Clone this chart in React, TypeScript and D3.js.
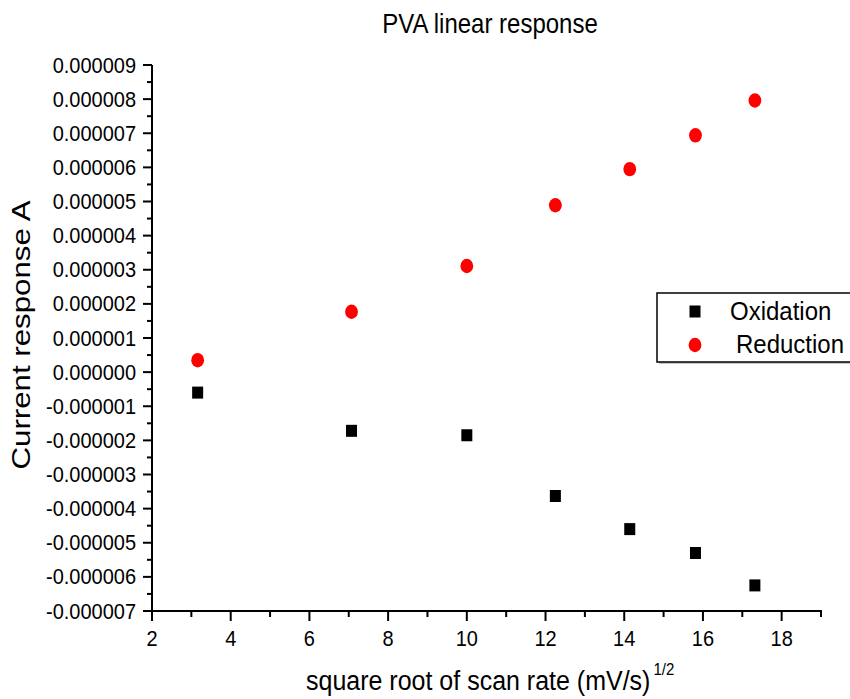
import React from "react";
import * as d3 from "d3";

const scanRateRoot = [3.16, 7.07, 10.0, 12.25, 14.14, 15.81, 17.32];
const oxidation = [-0.6e-6, -1.72e-6, -1.85e-6, -3.63e-6, -4.6e-6, -5.3e-6, -6.25e-6];
const reduction = [0.35e-6, 1.77e-6, 3.11e-6, 4.89e-6, 5.95e-6, 6.94e-6, 7.96e-6];
const xMajorTicks = [2, 4, 6, 8, 10, 12, 14, 16, 18];
const xMinorTicks = [3, 5, 7, 9, 11, 13, 15, 17, 19];
const yMajorTicks = [-7, -6, -5, -4, -3, -2, -1, 0, 1, 2, 3, 4, 5, 6, 7, 8, 9].map((v) => v * 1e-6);
const yMinorTicks = [-6.5, -5.5, -4.5, -3.5, -2.5, -1.5, -0.5, 0.5, 1.5, 2.5, 3.5, 4.5, 5.5, 6.5, 7.5, 8.5].map((v) => v * 1e-6);
const seriesNames = ["Oxidation", "Reduction"];
const title = "PVA linear response";
const xTitle = "square root of scan rate (mV/s)";
const xTitleSup = "1/2";
const yTitle = "Current response A";

const FONT = "'Liberation Sans', Arial, sans-serif";

export default function App() {
  const x = d3.scaleLinear().domain([2, 19]).range([152, 821]);
  const y = d3.scaleLinear().domain([-7e-6, 9e-6]).range([611, 65]);
  const x0 = x(2);
  const yBottom = y(-7e-6);
  const fmt = (v: number) => {
    const s = (Math.round(v * 1e6) / 1e6).toFixed(6);
    return s === "-0.000000" ? "0.000000" : s;
  };

  return (
    <svg
      width={850}
      height={699}
      style={{ position: "absolute", left: 0, top: 0, background: "#fff" }}
      fontFamily={FONT}
    >
      <rect x={0} y={0} width={850} height={699} fill="#fff" />
      {/* title */}
      <g transform="translate(490,33) scale(1,1.12)">
        <text x={0} y={0} textAnchor="middle" fontSize={24} fill="#000">
          {title}
        </text>
      </g>

      {/* y axis */}
      <line x1={x0} x2={x0} y1={y(9e-6)} y2={yBottom + 1} stroke="#000" strokeWidth={2} />
      {yMajorTicks.map((t, i) => (
        <g key={"ym" + i}>
          <line x1={x0 - 9} x2={x0} y1={y(t)} y2={y(t)} stroke="#000" strokeWidth={2} />
          <g transform={`translate(136,${y(t) + 7.5}) scale(1,1.08)`}>
            <text x={0} y={0} textAnchor="end" fontSize={20} fill="#000">
              {fmt(t)}
            </text>
          </g>
        </g>
      ))}
      {yMinorTicks.map((t, i) => (
        <line key={"yn" + i} x1={x0 - 5} x2={x0} y1={y(t)} y2={y(t)} stroke="#000" strokeWidth={2} />
      ))}

      {/* x axis */}
      <line x1={x0 - 1} x2={x(19) + 1} y1={yBottom} y2={yBottom} stroke="#000" strokeWidth={2} />
      {xMajorTicks.map((t, i) => (
        <g key={"xm" + i}>
          <line x1={x(t)} x2={x(t)} y1={yBottom} y2={yBottom + 10} stroke="#000" strokeWidth={2} />
          <g transform={`translate(${x(t)},646) scale(1,1.1)`}>
            <text x={0} y={0} textAnchor="middle" fontSize={20} fill="#000">
              {t}
            </text>
          </g>
        </g>
      ))}
      {xMinorTicks.map((t, i) => (
        <line key={"xn" + i} x1={x(t)} x2={x(t)} y1={yBottom} y2={yBottom + 6} stroke="#000" strokeWidth={2} />
      ))}

      {/* axis titles */}
      <g transform="translate(306,690) scale(1,1.12)">
        <text x={0} y={0} fontSize={25} fill="#000">
          {xTitle}
          <tspan fontSize={15} dy={-13} dx={3}>{xTitleSup}</tspan>
        </text>
      </g>
      <g transform="translate(30,335) scale(1,1.25) rotate(-90)">
        <text x={0} y={0} textAnchor="middle" fontSize={25} fill="#000">
          {yTitle}
        </text>
      </g>

      {/* data */}
      {scanRateRoot.map((v, i) => (
        <rect key={"o" + i} x={x(v) - 5.5} y={y(oxidation[i]) - 6} width={11} height={12} fill="#000" />
      ))}
      {scanRateRoot.map((v, i) => (
        <ellipse key={"r" + i} cx={x(v)} cy={y(reduction[i])} rx={6.4} ry={7.2} fill="#ff0000" />
      ))}

      {/* legend */}
      <rect x={659} y={295} width={200} height={69} fill="#c8c8c8" />
      <rect x={657} y={293} width={200} height={69} fill="#fff" stroke="#000" strokeWidth={1.5} />
      <rect x={689.5} y={305.5} width={11} height={12} fill="#000" />
      <g transform="translate(730,320) scale(1,1.1)">
        <text x={0} y={0} fontSize={24} fill="#000">
          {seriesNames[0]}
        </text>
      </g>
      <ellipse cx={695} cy={345} rx={6.4} ry={7.2} fill="#ff0000" />
      <g transform="translate(736,353) scale(1,1.1)">
        <text x={0} y={0} fontSize={24} fill="#000">
          {seriesNames[1]}
        </text>
      </g>
    </svg>
  );
}
